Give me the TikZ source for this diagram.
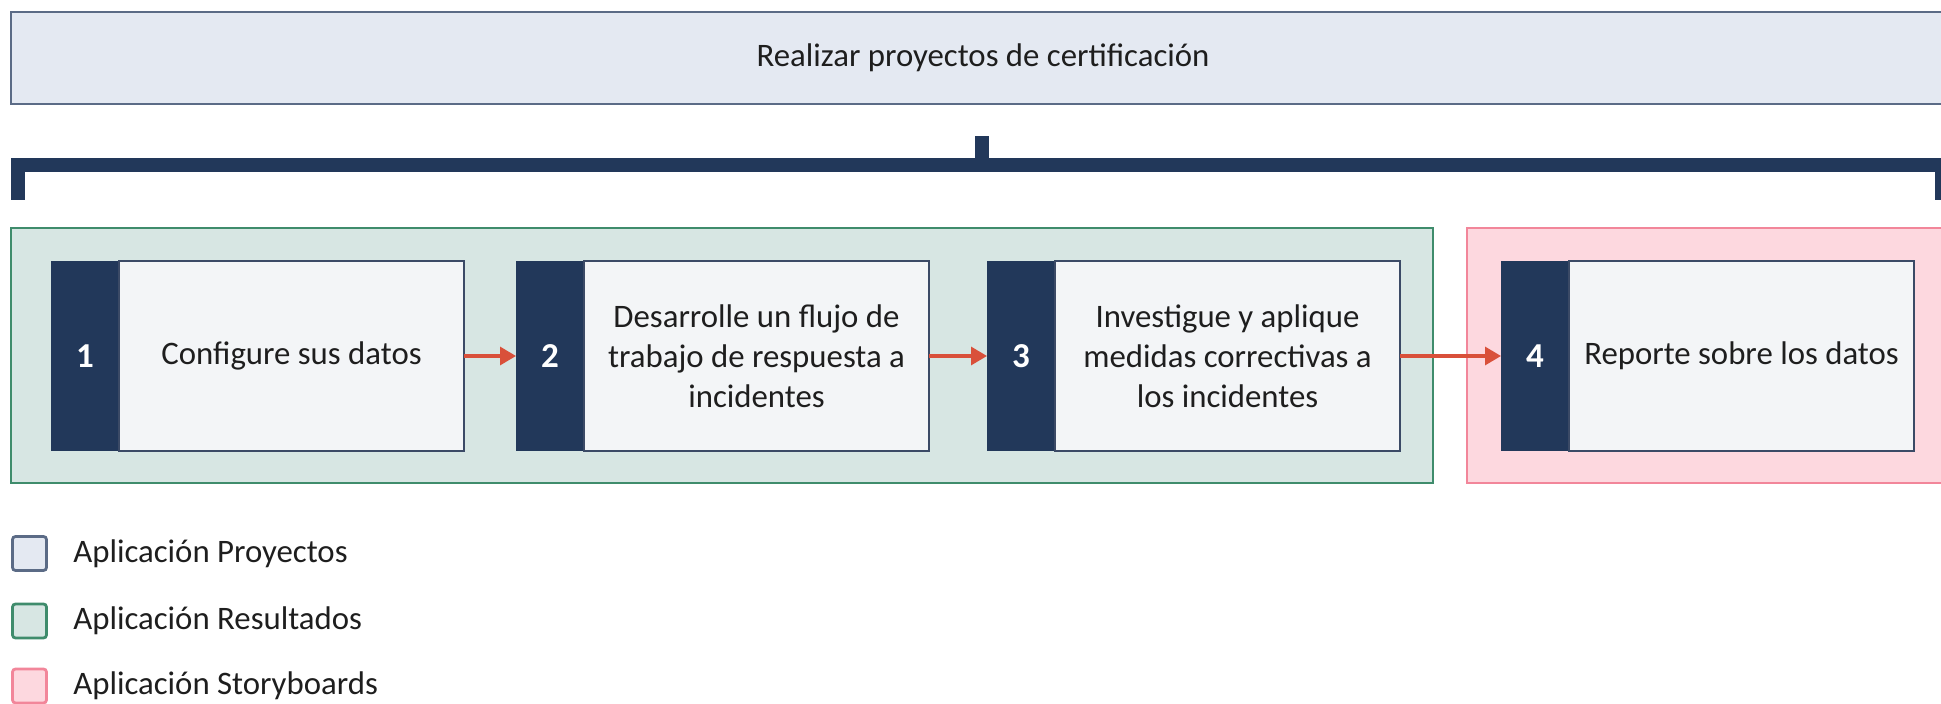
\documentclass[tikz,border=0pt]{standalone}
\usepackage{fontspec}
\setmainfont{Carlito}
\usetikzlibrary{positioning,arrows.meta}

\definecolor{navy}{HTML}{22385A}
\definecolor{projfill}{HTML}{E4E9F2}
\definecolor{projline}{HTML}{5B6B86}
\definecolor{resfill}{HTML}{D7E6E3}
\definecolor{resline}{HTML}{3F8C6C}
\definecolor{storyfill}{HTML}{FDD8DF}
\definecolor{storyline}{HTML}{F2869A}
\definecolor{stepfill}{HTML}{F3F5F7}
\definecolor{stepline}{HTML}{3B4A66}
\definecolor{flowred}{HTML}{D9503A}
\definecolor{txt}{HTML}{1E1E1E}

\tikzset{
	txtfont/.style={font=\fontsize{16.4}{20}\selectfont, text=txt},
	appbox/.style={draw=projline, line width=1pt, fill=projfill, minimum width=972pt, minimum height=46pt, txtfont},
	numbox/.style={fill=navy, minimum width=34pt, minimum height=95pt, inner sep=0pt, outer sep=0pt, text=white, font=\bfseries\fontsize{17.5}{20}\selectfont},
	stepbox/.style={draw=stepline, line width=0.7pt, fill=stepfill, minimum width=172.5pt, minimum height=95pt, align=center, inner sep=0pt, outer sep=0pt, txtfont},
	flow/.style={draw=flowred, line width=1.6pt, -{Triangle[length=8pt, width=9pt]}},
	bracket/.style={draw=navy, line width=7pt},
	legsq/.style={draw=#1line, fill=#1fill, line width=1.4pt, rounded corners=1.5pt, minimum size=17pt, inner sep=0pt},
	legtxt/.style={inner sep=0pt, txtfont}
}

\begin{document}
\begin{tikzpicture}[x=0.5pt, y=-0.5pt]

	\useasboundingbox (0,0) rectangle (1941,704);

	% aplicacion proyectos
	\node[appbox] (proj) at (983,58) {Realizar proyectos de certificación};

	\coordinate (bl) at (18,200);
	\coordinate (br) at (1942,200);
	\draw[bracket] (bl) -- (18,165) -- (1942,165) -- (br);
	\draw[bracket] (982,165) -- (982,136);

	% grupos
	\draw[resline, fill=resfill, line width=1pt] (11,228) rectangle (1433,483);
	\draw[storyline, fill=storyfill, line width=1pt] (1467,228) rectangle (1960,483);

	% pasos
	\node[numbox] (n1) at (85,356) {1};
	\node[stepbox, right=0pt of n1] (s1) {Configure sus datos};

	\node[numbox] (n2) at (550,356) {2};
	\node[stepbox, right=0pt of n2] (s2) {Desarrolle un flujo de\\trabajo de respuesta a\\incidentes};

	\node[numbox] (n3) at (1021,356) {3};
	\node[stepbox, right=0pt of n3] (s3) {Investigue y aplique\\medidas correctivas a\\los incidentes};

	\node[numbox] (n4) at (1535,356) {4};
	\node[stepbox, right=0pt of n4] (s4) {Reporte sobre los datos};

	\draw[flow] (s1) -- (n2);
	\draw[flow] (s2) -- (n3);
	\draw[flow] (s3) -- (n4);

	% leyenda
	\node[legsq=proj] (lp) at (29.5,553.5) {};
	\node[legtxt, right=12.5pt of lp] (tp) {Aplicación Proyectos};
	\node[legsq=res] (lr) at (29.5,621) {};
	\node[legtxt, right=12.5pt of lr] (tr) {Aplicación Resultados};
	\node[legsq=story] (ls) at (29.5,686) {};
	\node[legtxt, right=12.5pt of ls] (ts) {Aplicación Storyboards};

\end{tikzpicture}
\end{document}
